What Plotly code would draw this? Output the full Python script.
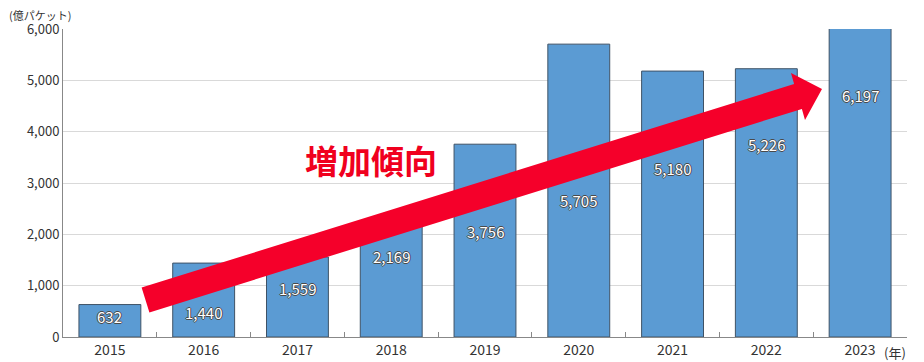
import plotly.graph_objects as go

years = ["2015", "2016", "2017", "2018", "2019", "2020", "2021", "2022", "2023"]
packets = [632, 1440, 1559, 2169, 3756, 5705, 5180, 5226, 6197]
y_ticks = [0, 1000, 2000, 3000, 4000, 5000, 6000]
# where each value label sits, as a share of its bar's height (style only)
label_frac = [0.62, 0.325, 0.61, 0.72, 0.545, 0.465, 0.635, 0.716, 0.76]

# page body has an 8px default margin: figure sits at (8, 8) in the window
OFF = 8
W, H = 924 - OFF, 362 - OFF
L, R, T, B = 63 - OFF, 17, 29 - OFF, 25
pw, ph = W - L - R, H - T - B

def px(x, y):
    # window pixel -> paper coords
    x -= OFF
    y -= OFF
    return (x - L) / pw, (H - B - y) / ph

arrow_px = [(141.6, 287.6), (794.1, 84.1), (791, 73), (822, 89), (805, 120),
            (801.9, 108.9), (149.4, 312.4)]
pts = [px(x, y) for x, y in arrow_px]
path = "M " + " L ".join(f"{a:.5f},{b:.5f}" for a, b in pts) + " Z"

font = "Noto Sans CJK JP, Noto Sans, sans-serif"
outline = "1px 0 0 #4a4a4a, -1px 0 0 #4a4a4a, 0 1px 0 #4a4a4a, 0 -1px 0 #4a4a4a"

fig = go.Figure()
fig.add_trace(go.Bar(
    x=years, y=packets,
    marker=dict(color="#5b9bd3", line=dict(color="#3f5266", width=1)),
    cliponaxis=True,
    width=0.66,
    hoverinfo="x+y",
))

fig.add_shape(type="path", xref="paper", yref="paper", path=path,
              fillcolor="#f5002a", line=dict(width=0), layer="above")

# category axis: annotation x given as the category index
for i, (v, f) in enumerate(zip(packets, label_frac)):
    fig.add_annotation(x=i, y=v * f, xref="x", yref="y", text=f"{v:,}",
                       showarrow=False,
                       font=dict(family=font, size=15, color="white", shadow=outline))

fig.add_annotation(text="増加傾向", xref="paper", yref="paper",
                   x=px(371, 160)[0], y=px(371, 160)[1], showarrow=False,
                   xanchor="center", yanchor="middle",
                   font=dict(family=font, size=33, color="#f0001e", weight="bold"))
fig.add_annotation(text="(億パケット)", xref="paper", yref="paper",
                   x=px(8, 15)[0], y=px(8, 15)[1], xanchor="left", yanchor="middle",
                   showarrow=False, borderpad=0,
                   font=dict(family=font, size=11, color="#333"))
fig.add_annotation(text="(年)", xref="paper", yref="paper",
                   x=px(908, 352)[0], y=px(908, 352)[1], xanchor="right",
                   yanchor="middle", showarrow=False,
                   font=dict(family=font, size=13, color="#333"))

fig.update_layout(
    width=W, height=H,
    margin=dict(l=L, r=R, t=T, b=B, autoexpand=False),
    paper_bgcolor="white", plot_bgcolor="white",
    showlegend=False,
    bargap=0.34,
    font=dict(family=font, size=13, color="#333"),
)
fig.update_xaxes(
    type="category", categoryorder="array", categoryarray=years,
    showline=True, linecolor="#888", linewidth=1,
    ticks="inside", tickson="boundaries", ticklen=5, tickcolor="#888",
    showgrid=False, tickfont=dict(size=14, color="#333"), automargin=False,
)
fig.update_yaxes(
    range=[0, 6000], tickvals=y_ticks, tickformat=",",
    showline=True, linecolor="#888", linewidth=1,
    showgrid=True, gridcolor="#d9d9d9", gridwidth=1,
    zeroline=False, ticks="", tickfont=dict(size=13, color="#333"),
    automargin=False,
)

fig.write_html("out.html")
